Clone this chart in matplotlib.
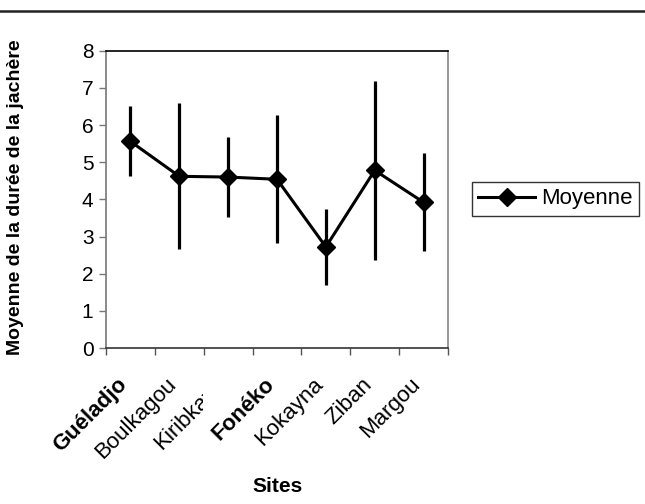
import matplotlib.pyplot as plt
from matplotlib.lines import Line2D
from matplotlib.transforms import ScaledTranslation, Bbox

plt.rcParams['font.family'] = ['Liberation Sans', 'DejaVu Sans']

sites = ["Guéladjo", "Boulkagou", "Kiribkaye", "Fonéko", "Kokayna", "Ziban", "Margou"]
moyenne = [5.56, 4.62, 4.60, 4.54, 2.72, 4.78, 3.92]
ecart = [0.94, 1.96, 1.08, 1.72, 1.03, 2.40, 1.32]

fig = plt.figure(figsize=(6.45, 5.04), dpi=100)
ax = fig.add_axes([0.1643, 0.3095, 0.5303, 0.5899])

x = list(range(len(sites)))
ax.errorbar(x, moyenne, yerr=ecart, fmt='none', ecolor='black', elinewidth=2.3, capsize=0)
ax.plot(x, moyenne, color='black', lw=2.2, marker='D', markersize=9.5, label='Moyenne')

ax.set_xlim(-0.5, len(sites) - 0.5)
ax.set_ylim(0, 8)
ax.set_yticks(range(0, 9))

# ticks between categories, labels at centres
ax.set_xticks([i - 0.5 for i in range(len(sites) + 1)])
ax.set_xticklabels([])
ax.set_xticks(x, minor=True)
ax.set_xticklabels(sites, minor=True, rotation=45, ha='right', va='center',
                   rotation_mode='anchor', fontsize=16)
ax.tick_params(axis='x', which='minor', length=0, pad=24)
ax.tick_params(axis='x', which='major', length=5, width=1, color='#555555', direction='out')
ax.tick_params(axis='y', length=5, width=1, color='#777777', labelsize=15, pad=4)
shift = ScaledTranslation(-6 / 100, 0, fig.dpi_scale_trans)
for lbl in ax.get_xticklabels(minor=True):
    lbl.set_transform(lbl.get_transform() + shift)
    if lbl.get_text() in ("Guéladjo", "Fonéko"):
        lbl.set_fontweight('bold')
    if lbl.get_text() == "Kiribkaye":
        # label cut at the edge of its category, as in the original
        lbl.set_clip_box(Bbox.from_extents(0, 0, 203, 504))
        lbl.set_clip_on(True)

ax.spines['top'].set_color('black')
ax.spines['right'].set_color('#888888')
ax.spines['left'].set_color('#777777')
ax.spines['bottom'].set_color('#333333')
for s in ax.spines.values():
    s.set_linewidth(1.2)

fig.text(16 / 645, 1 - 197 / 504, "Moyenne de la durée de la jachère", rotation=90,
         ha='center', va='center', fontsize=14, fontweight='bold')
fig.text(278 / 645, 1 - 486 / 504, "Sites", ha='center', va='center',
         fontsize=15, fontweight='bold')

leg = ax.legend(loc='center left', bbox_to_anchor=(472 / 645, 1 - 199 / 504),
                bbox_transform=fig.transFigure, frameon=True, fancybox=False,
                edgecolor='black', fontsize=16, handlelength=2.57, borderpad=0.28,
                handletextpad=0.27, borderaxespad=0)
leg.get_frame().set_linewidth(1.0)

# horizontal rule at top of the page
fig.add_artist(Line2D([0, 1], [1 - 11 / 504, 1 - 11 / 504], color='#222222', lw=1.8,
                      transform=fig.transFigure))

fig.savefig('out.png', dpi=100)
